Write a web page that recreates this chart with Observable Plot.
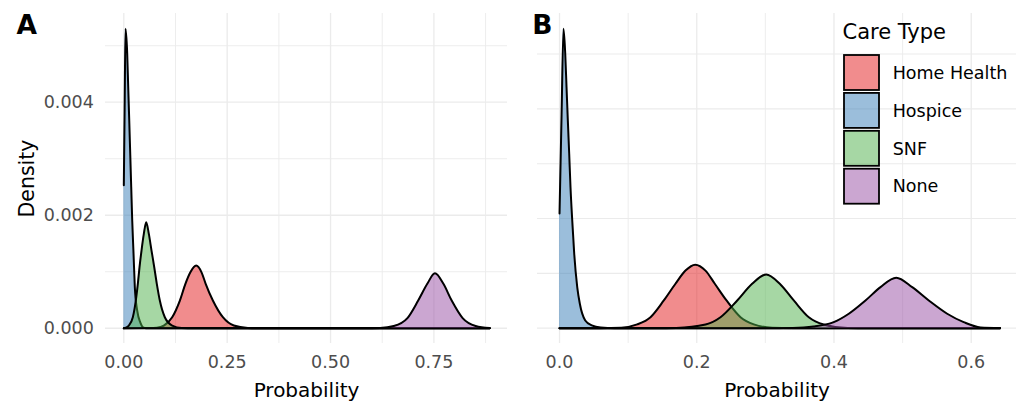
<!DOCTYPE html>
<html><head><meta charset="utf-8">
<script src="https://cdn.jsdelivr.net/npm/d3@7"></script>
<script src="https://cdn.jsdelivr.net/npm/@observablehq/plot@0.6"></script>
<style>
html,body{margin:0;padding:0;background:#fff;}
#wrap{position:relative;width:1016px;height:401px;display:flex;overflow:hidden;}
#wrap > svg{display:block;flex:none;}
#legend{position:absolute;left:0;top:0;pointer-events:none;}
</style></head><body><div id="wrap"></div>
<script>
const careTypes = ["Home Health", "Hospice", "SNF", "None"];
const careColors = ["#E41A1C", "#377EB8", "#4DAF4A", "#984EA3"];

// Panel A: [probability, density]
const homeHealthA = [[0,0],[0.06,0.000003],[0.08,0.00001],[0.0968,0.000048],[0.117,0.000195],[0.1356,0.00049],[0.149,0.000786],[0.161,0.00099],[0.175,0.00111],[0.188,0.00099],[0.198,0.000786],[0.2154,0.00049],[0.2396,0.000195],[0.266,0.000048],[0.30,0.000005],[0.33,0],[0.885,0]];
const hospiceA = [[0,0.00253],[0.002,0.0039],[0.0041,0.0053],[0.0082,0.00486],[0.0106,0.00427],[0.0131,0.00368],[0.0155,0.00309],[0.0179,0.0025],[0.0203,0.00191],[0.0235,0.00132],[0.0266,0.00073],[0.0324,0.00031],[0.040,0.0001],[0.048,0.00001],[0.06,0],[0.885,0]];
const snfA = [[0,0],[0.005,0.00001],[0.0121,0.000048],[0.0218,0.000195],[0.029,0.00049],[0.0339,0.000786],[0.038,0.00108],[0.0428,0.001375],[0.0484,0.00167],[0.0542,0.001876],[0.0605,0.00167],[0.067,0.001375],[0.0736,0.00108],[0.0798,0.000786],[0.0871,0.00049],[0.0992,0.000195],[0.117,0.000048],[0.14,0.000005],[0.17,0],[0.885,0]];
const noneA = [[0,0],[0.58,0],[0.62,0.000005],[0.653,0.00004],[0.686,0.00018],[0.712,0.00049],[0.734,0.000786],[0.7525,0.000973],[0.773,0.000786],[0.793,0.00049],[0.8195,0.00018],[0.851,0.00004],[0.885,0.000003]];

// Panel B: [probability, density]
const homeHealthB = [[0,0],[0.06,0],[0.09,0.000008],[0.1132,0.000068],[0.1326,0.0002],[0.152,0.000505],[0.169,0.00081],[0.1836,0.00105],[0.1977,0.001157],[0.2127,0.00105],[0.2263,0.00081],[0.2434,0.000505],[0.2638,0.0002],[0.2832,0.000068],[0.31,0.000008],[0.34,0],[0.642,0]];
const hospiceB = [[0,0.00209],[0.003,0.0039],[0.0058,0.00546],[0.0083,0.00501],[0.0102,0.0044],[0.0121,0.00379],[0.0141,0.00318],[0.016,0.00257],[0.0185,0.00197],[0.0214,0.00136],[0.0258,0.00075],[0.0296,0.000445],[0.0375,0.00014],[0.047,0.00005],[0.06,0.00001],[0.08,0],[0.642,0]];
const snfB = [[0,0],[0.14,0],[0.17,0.000005],[0.2128,0.000068],[0.2346,0.0002],[0.259,0.000505],[0.2807,0.00081],[0.3012,0.00098],[0.321,0.00081],[0.3414,0.000505],[0.3633,0.0002],[0.385,0.000068],[0.42,0.000005],[0.45,0],[0.642,0]];
const noneB = [[0,0],[0.30,0],[0.34,0.000005],[0.37,0.00003],[0.3997,0.00011],[0.4216,0.000263],[0.4459,0.000505],[0.4678,0.000748],[0.4907,0.00092],[0.514,0.000748],[0.5382,0.000505],[0.565,0.000263],[0.589,0.00011],[0.6135,0.000013],[0.642,0.000002]];

// Ticks and gridlines
const xTicksA = [0, 0.25, 0.5, 0.75];
const xMinorA = [0.125, 0.375, 0.625, 0.875];
const yTicksA = [0, 0.002, 0.004];
const yMinorA = [0.001, 0.003, 0.005];
const xTicksB = [0, 0.2, 0.4, 0.6];
const xMinorB = [0.1, 0.3, 0.5];
const yGridB = [0, 0.001, 0.002, 0.003, 0.004, 0.005];

const FONT = "DejaVu Sans";
const seriesA = [homeHealthA, hospiceA, snfA, noneA];
const seriesB = [homeHealthB, hospiceB, snfB, noneB];

function densityMarks(series) {
  const marks = [];
  series.forEach((pts, i) => {
    const rows = pts.map(([p, d]) => ({type: careTypes[i], key: i, p, d}));
    marks.push(Plot.areaY(rows, {x: "p", y: "d", fill: "key", fillOpacity: 0.5, curve: "monotone-x"}));
    marks.push(Plot.lineY(rows, {x: "p", y: "d", stroke: "black", strokeWidth: 2, curve: "monotone-x"}));
  });
  return marks;
}
const colorScale = {type: "ordinal", domain: careTypes.map((d, i) => i), range: careColors};
const gridColor = "#ebebeb";
const baseStyle = {fontFamily: FONT, fontSize: "17.5px", color: "#4d4d4d", background: "transparent", overflow: "visible"};

const plotA = Plot.plot({
  width: 510, height: 401,
  marginLeft: 105, marginRight: 3, marginTop: 13, marginBottom: 58,
  x: {domain: [-0.0443, 0.928]},
  y: {domain: [-0.00027, 0.00557]},
  color: colorScale,
  style: baseStyle,
  marks: [
    Plot.ruleX(xMinorA, {stroke: gridColor, strokeWidth: 0.9}),
    Plot.ruleY(yMinorA, {stroke: gridColor, strokeWidth: 0.9}),
    Plot.ruleX(xTicksA, {stroke: gridColor, strokeWidth: 1.3}),
    Plot.ruleY(yTicksA, {stroke: gridColor, strokeWidth: 1.3}),
    ...densityMarks(seriesA),
    Plot.axisX(xTicksA, {tickSize: 0, tickPadding: 12.5, tickFormat: d3.format(".2f"), label: null}),
    Plot.axisY(yTicksA, {tickSize: 0, tickPadding: 11.7, tickFormat: d3.format(".3f"), label: null}),
    Plot.text(["Probability"], {text: d => d, frameAnchor: "bottom", dy: 53, textAnchor: "middle", lineAnchor: "bottom", fontSize: 20, fill: "black"}),
    Plot.text(["Density"], {text: d => d, frameAnchor: "left", dx: -72, rotate: -90, textAnchor: "middle", lineAnchor: "bottom", fontSize: 20.5, fill: "black"}),
    Plot.text(["A"], {text: d => d, frameAnchor: "top-left", dx: -89, dy: 20.3, textAnchor: "start", lineAnchor: "bottom", fontSize: 26.5, fontWeight: "bold", fill: "black"})
  ]
});

const plotB = Plot.plot({
  width: 506, height: 401,
  marginLeft: 27, marginRight: 0, marginTop: 13, marginBottom: 58,
  x: {domain: [-0.0321, 0.666]},
  y: {domain: [-0.00028, 0.00574], axis: null},
  color: colorScale,
  style: baseStyle,
  marks: [
    Plot.ruleX(xMinorB, {stroke: gridColor, strokeWidth: 0.9}),
    Plot.ruleX(xTicksB, {stroke: gridColor, strokeWidth: 1.3}),
    Plot.ruleY(yGridB, {stroke: gridColor, strokeWidth: 1.1}),
    ...densityMarks(seriesB),
    Plot.axisX(xTicksB, {tickSize: 0, tickPadding: 12.5, tickFormat: d3.format(".1f"), label: null}),
    Plot.text(["Probability"], {text: d => d, frameAnchor: "bottom", dy: 53, textAnchor: "middle", lineAnchor: "bottom", fontSize: 20, fill: "black"}),
    Plot.text(["B"], {text: d => d, frameAnchor: "top-left", dx: -5.3, dy: 20.3, textAnchor: "start", lineAnchor: "bottom", fontSize: 26.5, fontWeight: "bold", fill: "black"})
  ]
});

const wrap = document.getElementById("wrap");
wrap.appendChild(plotA);
wrap.appendChild(plotB);

// Legend (Care Type)
const legend = d3.select(wrap).append("svg").attr("id", "legend")
  .attr("width", 1016).attr("height", 401)
  .style("font-family", FONT);
legend.append("text").attr("x", 842.5).attr("y", 38.8)
  .attr("font-size", 21).attr("fill", "black").text("Care Type");
const items = legend.selectAll("g.item").data(careTypes).join("g").attr("class", "item")
  .attr("transform", (d, i) => `translate(844,${55 + i * 37.9})`);
items.append("rect").attr("width", 35).attr("height", 35)
  .attr("fill", (d, i) => careColors[i]).attr("fill-opacity", 0.5)
  .attr("stroke", "black").attr("stroke-width", 1.8);
items.append("text").attr("x", 48.7).attr("y", 17.5).attr("dy", "0.36em")
  .attr("font-size", 17.5).attr("fill", "black").text(d => d);
</script></body></html>
